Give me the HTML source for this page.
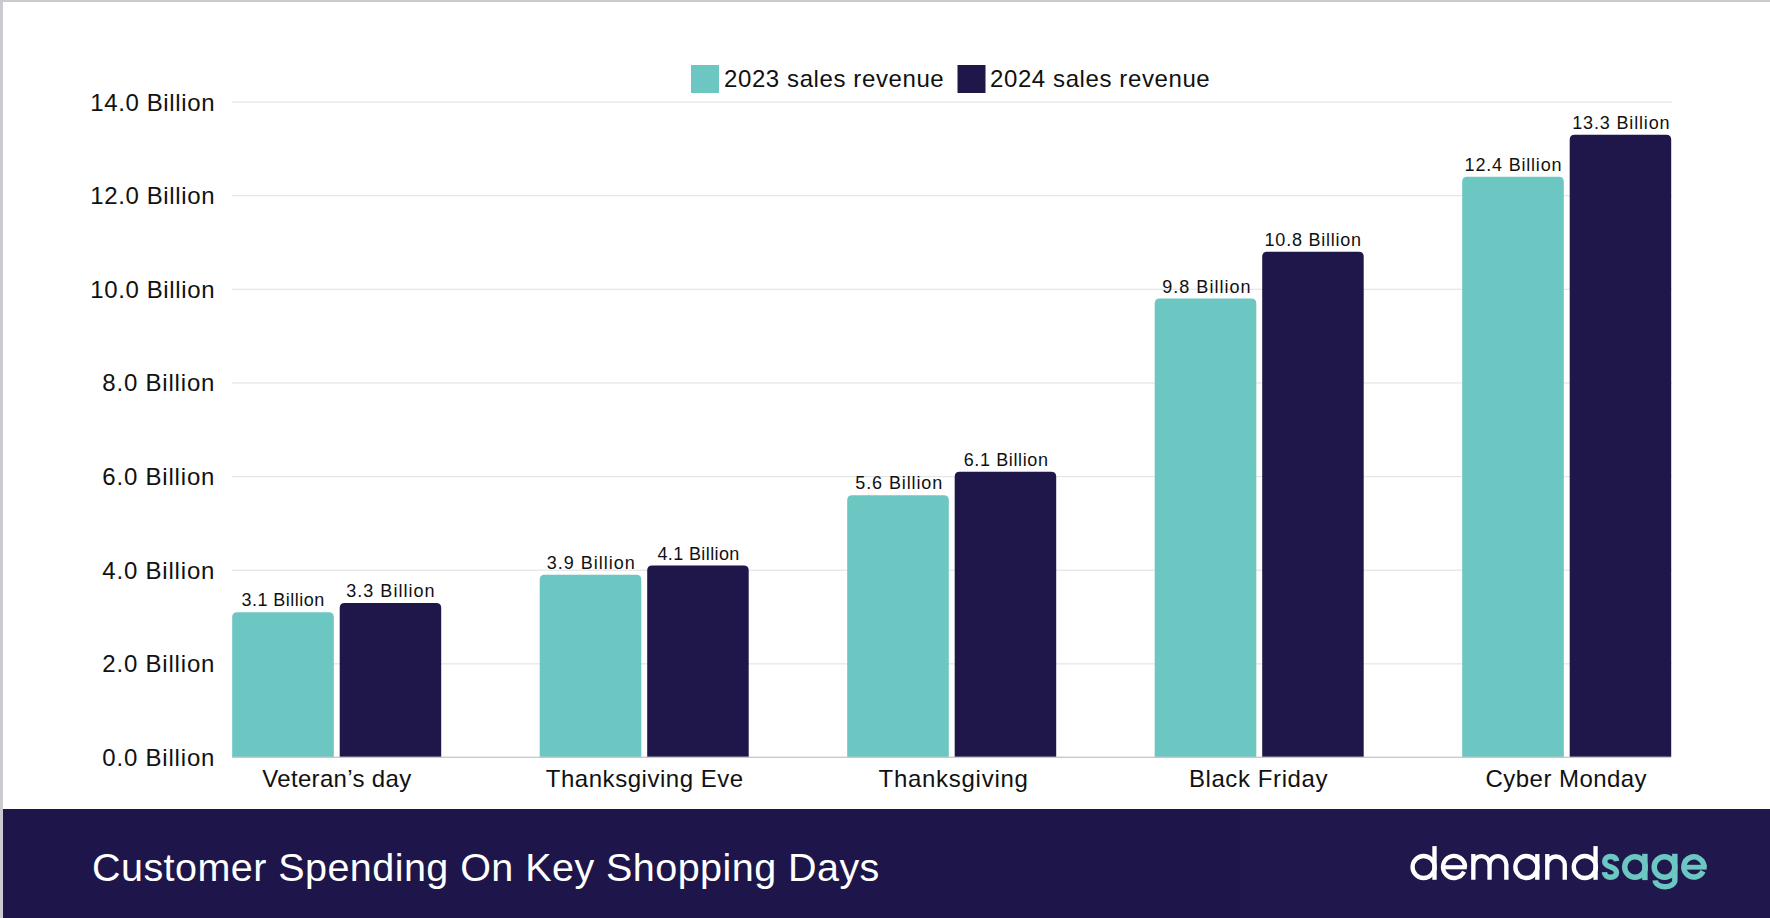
<!DOCTYPE html>
<html><head><meta charset="utf-8"><style>
html,body{margin:0;padding:0;width:1770px;height:918px;overflow:hidden;background:#fff}
svg{display:block}
text{font-family:"Liberation Sans",sans-serif;fill:#111111}
.yl{font-size:24px;letter-spacing:0.55px}
.dl{font-size:18px;letter-spacing:0.8px}
.cl{font-size:24px;letter-spacing:0.45px}
.lg{font-size:24px;letter-spacing:0.6px}
.ft{font-size:39.5px;letter-spacing:0.45px;fill:#ffffff}
</style></head><body>
<svg width="1770" height="918" viewBox="0 0 1770 918"><rect x="0" y="0" width="1770" height="918" fill="#cbcad0"/><rect x="3" y="2" width="1767" height="807" fill="#ffffff"/><rect x="232" y="663.26" width="1440" height="1.2" fill="#e2e6e5"/><rect x="232" y="569.62" width="1440" height="1.2" fill="#e2e6e5"/><rect x="232" y="475.98" width="1440" height="1.2" fill="#e2e6e5"/><rect x="232" y="382.34" width="1440" height="1.2" fill="#e2e6e5"/><rect x="232" y="288.70" width="1440" height="1.2" fill="#e2e6e5"/><rect x="232" y="195.06" width="1440" height="1.2" fill="#e2e6e5"/><rect x="232" y="101.42" width="1440" height="1.2" fill="#e2e6e5"/><text x="215.20" y="766.00" class="yl" text-anchor="end" style="letter-spacing:0.8px">0.0 Billion</text><text x="215.20" y="672.36" class="yl" text-anchor="end" style="letter-spacing:0.8px">2.0 Billion</text><text x="215.20" y="578.72" class="yl" text-anchor="end" style="letter-spacing:0.8px">4.0 Billion</text><text x="215.20" y="485.08" class="yl" text-anchor="end" style="letter-spacing:0.8px">6.0 Billion</text><text x="215.20" y="391.44" class="yl" text-anchor="end" style="letter-spacing:0.8px">8.0 Billion</text><text x="215.20" y="297.80" class="yl" text-anchor="end" style="letter-spacing:0.63px">10.0 Billion</text><text x="215.20" y="204.16" class="yl" text-anchor="end" style="letter-spacing:0.63px">12.0 Billion</text><text x="215.20" y="110.52" class="yl" text-anchor="end" style="letter-spacing:0.63px">14.0 Billion</text><path d="M232.2 757 V617.26 Q232.2 612.26 237.2 612.26 H328.79999999999995 Q333.79999999999995 612.26 333.79999999999995 617.26 V757 Z" fill="#6cc6c2"/><path d="M339.7 757 V607.89 Q339.7 602.89 344.7 602.89 H436.2 Q441.2 602.89 441.2 607.89 V757 Z" fill="#1f1649"/><text x="241.40" y="606.36" class="dl" style="letter-spacing:0.490px">3.1 Billion</text><text x="346.20" y="596.99" class="dl" style="letter-spacing:1.040px">3.3 Billion</text><text x="336.87" y="787.0" class="cl" text-anchor="middle" style="letter-spacing:0.33px">Veteran’s day</text><path d="M539.7 757 V579.80 Q539.7 574.80 544.7 574.80 H636.3000000000001 Q641.3000000000001 574.80 641.3000000000001 579.80 V757 Z" fill="#6cc6c2"/><path d="M647.2 757 V570.44 Q647.2 565.44 652.2 565.44 H743.7 Q748.7 565.44 748.7 570.44 V757 Z" fill="#1f1649"/><text x="546.80" y="568.90" class="dl" style="letter-spacing:1.000px">3.9 Billion</text><text x="657.40" y="559.54" class="dl" style="letter-spacing:0.390px">4.1 Billion</text><text x="644.76" y="787.0" class="cl" text-anchor="middle" style="letter-spacing:0.53px">Thanksgiving Eve</text><path d="M847.2 757 V500.21 Q847.2 495.21 852.2 495.21 H943.8000000000001 Q948.8000000000001 495.21 948.8000000000001 500.21 V757 Z" fill="#6cc6c2"/><path d="M954.7 757 V476.80 Q954.7 471.80 959.7 471.80 H1051.2 Q1056.2 471.80 1056.2 476.80 V757 Z" fill="#1f1649"/><text x="855.30" y="489.31" class="dl" style="letter-spacing:0.890px">5.6 Billion</text><text x="963.70" y="465.90" class="dl" style="letter-spacing:0.620px">6.1 Billion</text><text x="953.56" y="787.0" class="cl" text-anchor="middle" style="letter-spacing:0.72px">Thanksgiving</text><path d="M1154.7 757 V303.56 Q1154.7 298.56 1159.7 298.56 H1251.3 Q1256.3 298.56 1256.3 303.56 V757 Z" fill="#6cc6c2"/><path d="M1262.2 757 V256.74 Q1262.2 251.74 1267.2 251.74 H1358.7 Q1363.7 251.74 1363.7 256.74 V757 Z" fill="#1f1649"/><text x="1162.30" y="292.66" class="dl" style="letter-spacing:1.010px">9.8 Billion</text><text x="1264.60" y="245.84" class="dl" style="letter-spacing:0.764px">10.8 Billion</text><text x="1258.50" y="787.0" class="cl" text-anchor="middle" style="letter-spacing:0.6px">Black Friday</text><path d="M1462.2 757 V181.83 Q1462.2 176.83 1467.2 176.83 H1558.8 Q1563.8 176.83 1563.8 181.83 V757 Z" fill="#6cc6c2"/><path d="M1569.7 757 V139.69 Q1569.7 134.69 1574.7 134.69 H1666.2 Q1671.2 134.69 1671.2 139.69 V757 Z" fill="#1f1649"/><text x="1464.60" y="170.93" class="dl" style="letter-spacing:0.800px">12.4 Billion</text><text x="1572.20" y="128.79" class="dl" style="letter-spacing:0.845px">13.3 Billion</text><text x="1566.33" y="787.0" class="cl" text-anchor="middle" style="letter-spacing:0.45px">Cyber Monday</text><rect x="232" y="756.6" width="1439" height="1.4" fill="#c9c9cc"/><rect x="691" y="65" width="28" height="28" fill="#6cc6c2"/><text x="724" y="86.7" class="lg">2023 sales revenue</text><rect x="957.5" y="65" width="28" height="28" fill="#1f1649"/><text x="990" y="86.7" class="lg">2024 sales revenue</text><rect x="3" y="809" width="1767" height="109" fill="#1e164a"/><rect x="1240" y="809" width="530" height="109" fill="#20174c"/><text x="92" y="881" class="ft">Customer Spending On Key Shopping Days</text><g><path d="M1412.57 867.00 A11.02 11.02 0 1 0 1434.62 867.00 A11.02 11.02 0 1 0 1412.57 867.00 Z" fill="none" stroke="#ffffff" stroke-width="4.35"/><path d="M1434.5 846.1 V879.8" fill="none" stroke="#ffffff" stroke-width="4.35"/><path d="M1465.03 867.00 A11.02 11.02 0 1 0 1463.99 871.66" fill="none" stroke="#ffffff" stroke-width="4.35"/><rect x="1443.38" y="865.2" width="23.42" height="4.1" fill="#fff"/><path d="M1473.35 854.0 V879.8 M1473.35 864.27 A8.10 8.10 0 0 1 1489.55 864.27 V879.8" fill="none" stroke="#ffffff" stroke-width="4.35"/><path d="M1489.55 864.57 A8.40 8.40 0 0 1 1506.35 864.57 V879.8" fill="none" stroke="#ffffff" stroke-width="4.35"/><path d="M1515.32 867.00 A11.02 11.02 0 1 0 1537.38 867.00 A11.02 11.02 0 1 0 1515.32 867.00 Z" fill="none" stroke="#ffffff" stroke-width="4.35"/><path d="M1537.3 854.0 V879.8" fill="none" stroke="#ffffff" stroke-width="4.35"/><path d="M1547.3 854.0 V879.8 M1547.3 864.90 A8.73 8.73 0 0 1 1564.75 864.90 V879.8" fill="none" stroke="#ffffff" stroke-width="4.35"/><path d="M1573.77 867.00 A11.02 11.02 0 1 0 1595.83 867.00 A11.02 11.02 0 1 0 1573.77 867.00 Z" fill="none" stroke="#ffffff" stroke-width="4.35"/><path d="M1595.55 846.1 V879.8" fill="none" stroke="#ffffff" stroke-width="4.35"/><path d="M1616.6 861.2 C1616.2 858.2 1613.8 856.5 1610.6 856.5 C1607.2 856.5 1604.7 858.5 1604.7 861.4 C1604.7 864.6 1607.6 865.8 1610.6 866.8 C1614.0 868.0 1616.5 869.4 1616.5 872.6 C1616.5 875.6 1614.0 877.3 1610.5 877.3 C1607.0 877.3 1604.6 875.4 1604.4 872.2" fill="none" stroke="#6cc6c2" stroke-width="5.45"/><path d="M1624.72 867.00 A10.28 10.28 0 1 0 1645.28 867.00 A10.28 10.28 0 1 0 1624.72 867.00 Z" fill="none" stroke="#6cc6c2" stroke-width="5.45"/><path d="M1644.9 853.8 V880.1" fill="none" stroke="#6cc6c2" stroke-width="5.45"/><path d="M1654.22 867.00 A10.28 10.28 0 1 0 1674.78 867.00 A10.28 10.28 0 1 0 1654.22 867.00 Z" fill="none" stroke="#6cc6c2" stroke-width="5.45"/><path d="M1674.85 853.8 V880.0 A9.8 6.5 0 0 1 1655.2 880.4" fill="none" stroke="#6cc6c2" stroke-width="5.45"/><path d="M1703.98 867.00 A10.08 10.08 0 1 0 1703.03 871.26" fill="none" stroke="#6cc6c2" stroke-width="5.45"/><rect x="1683.82" y="864.8" width="22.88" height="4.8" fill="#6cc6c2"/></g></svg>
</body></html>
